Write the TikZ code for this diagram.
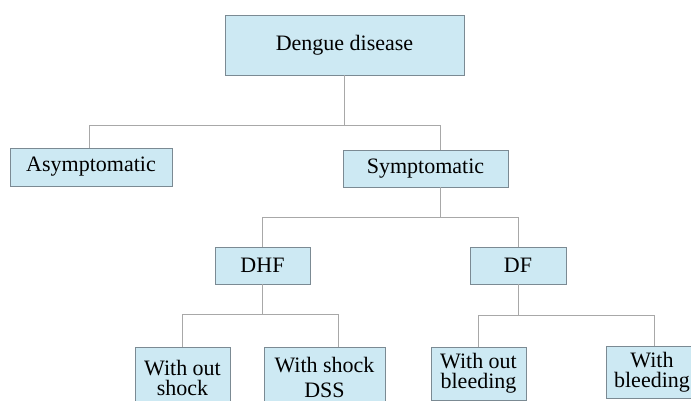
\documentclass[tikz,border=0pt]{standalone}
\usepackage{fontspec}
\setmainfont{Liberation Serif}
\usepackage{tikz}

\definecolor{boxfill}{HTML}{CDE9F3}
\definecolor{boxline}{HTML}{7B8A93}
\definecolor{linkgray}{HTML}{A8A8A8}

\begin{document}
\begin{tikzpicture}[x=1pt, y=-1pt,
        box/.style={draw=boxline, fill=boxfill, line width=0.8pt, inner sep=0pt,
            font=\fontsize{22}{23}\selectfont, align=center},
        link/.style={draw=linkgray, line width=0.7pt}]
        \useasboundingbox (0,0) rectangle (691,401);
        \clip (0,0) rectangle (691,401);

        % boxes
        \node[box, minimum width=239pt, minimum height=60pt] (root) at (344.5,45) {Dengue disease};
        \node[box, minimum width=162pt, minimum height=38pt] (asym) at (91,167) {Asymptomatic};
        \node[box, minimum width=165pt, minimum height=37pt] (symp) at (425.5,168.5) {Symptomatic};
        \node[box, minimum width=95pt, minimum height=37pt] (dhf) at (262.5,265.5) {DHF};
        \node[box, minimum width=96pt, minimum height=37pt] (df) at (518,265.5) {DF};
        \node[box, minimum width=95pt, minimum height=62pt,
            font=\fontsize{22}{20}\selectfont] (noshock) at (182.5,378) {With out\\shock};
        \node[box, minimum width=121pt, minimum height=60pt,
            font=\fontsize{22}{25}\selectfont] (shock) at (324.5,377) {With shock\\DSS};
        \node[box, minimum width=95pt, minimum height=53pt,
            font=\fontsize{22}{20}\selectfont] (nobleed) at (478.5,373.5) {With out\\bleeding};
        \node[box, minimum width=92pt, minimum height=52pt,
            font=\fontsize{22}{20}\selectfont] (bleed) at (652,372) {With\\bleeding};

        % connectors
        \coordinate (barA) at (89,125);
        \coordinate (barB) at (440,125);
        \draw[link] (root.south) -- (root.south |- barA);
        \draw[link] (asym.north -| barA) -- (barA) -- (barB) -- (symp.north -| barB);

        \coordinate (barC) at (440,217);
        \draw[link] (symp.south -| barC) -- (barC);
        \draw[link] (dhf.north) -- (dhf.north |- barC) -- (df.north |- barC) -- (df.north);

        \coordinate (barD) at (338,314);
        \draw[link] (dhf.south) -- (dhf.south |- barD);
        \draw[link] (noshock.north) -- (noshock.north |- barD) -- (barD) -- (shock.north -| barD);

        \coordinate (barE) at (654,315);
        \draw[link] (df.south) -- (df.south |- barE);
        \draw[link] (nobleed.north) -- (nobleed.north |- barE) -- (barE) -- (bleed.north -| barE);
\end{tikzpicture}
\end{document}
